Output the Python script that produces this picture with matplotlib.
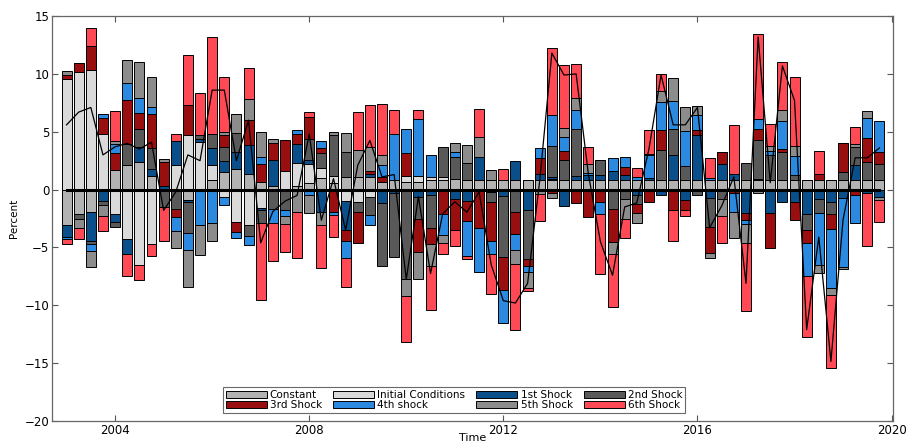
import numpy as np
import matplotlib
matplotlib.use("Agg")
import matplotlib.pyplot as plt

plt.rcParams['font.family'] = ['DejaVu Sans']

# Quarterly observations, 2003Q1 - 2019Q4
quarters = np.arange(2003, 2020, 0.25)

series_names = ["Constant", "Initial Conditions", "1st Shock", "2nd Shock",
                "3rd Shock", "4th shock", "5th Shock", "6th Shock"]
series_colors = ["#b3b3b3", "#dadada", "#0b4f8a", "#595959",
                 "#990f0f", "#2b8ae0", "#8c8c8c", "#ff4a55"]

constant = [-3.05, -2.1, -1.93, 0, 1.7, 2.15, 2.35, 1.2, 0, 0, -0.9, 0,
            0.8, 1.5, 1.75, 1.35, 0.7, 0.3, 0, 0.3, 0.55, 1.0, 0.55, 1.1,
            1.1, 1.05, 0.7, 0.8, 0.7, 0.7, 0.8, 0.8, 0.9, 0.8, 0.8, 0.8,
            0.85, 0.8, 0.8, 0.8, 0.8, 0.8, 0.8, 0.8, 0.8, 0.8, 0.8, 0.8,
            0.8, 0.8, 0.8, 0.8, 0.8, 0.8, 0.8, 0.8, 0.8, 0.8, 0.8, 0.8,
            0.8, 0.8, 0.8, 0.8, 0.8, 0.8, 0.8, 0.8]
initial = [9.57, 10.2, 10.35, 4.8, -2.15, -4.3, -6.5, -4.7, 0, 2.1, 4.75, 4.1,
           1.3, -0.65, -2.8, -3.05, -1.55, 0, 1.6, 2.0, 1.65, 0.85, 0.6, -0.95,
           -1.1, -0.6, 0, 0, 0.5, 0.5, 0.3, 0.3, 0, 0, 0, 0,
           0, 0, 0, 0, 0.15, 0, 0, 0, 0, 0, 0, 0,
           0, 0, 0, 0, 0, 0, 0, 0, 0, 0, 0, 0,
           0, 0, 0, 0, 0, 0, 0, 0]
shock1 = [-1.07, 0, -2.47, -0.95, -0.65, -1.3, 1.3, 0.57, 0.3, 2.07, -0.2, 0.3,
          1.5, 0.95, 1.5, 2.5, -0.2, 2.25, 0, 1.6, 0.35, -1.95, 0, -2.55,
          0, 0.3, -1.15, -0.3, 0, -0.6, -0.45, 0, -0.8, -1.0, 2.0, -0.2,
          -0.55, 1.7, -1.8, 0.57, 0.15, -1.45, 0.35, 0.43, 0.5, 0.8, 0.5, -0.5,
          0.23, -0.5, 2.2, -0.86, 3.88, -0.7, 1.38, 0.57, -2.0, 0.14, -2.0, -1.1,
          -1.1, -2.07, -0.8, -1.1, -0.72, 1.3, -0.3, -0.6]
shock2 = [0, -0.45, -0.26, -0.35, -0.4, 1.8, 1.55, 1.8, -1.5, -1.66, -2.65, 0.35,
          1.2, 1.2, 1.6, -1.0, -1.15, -1.65, -1.8, 0, 1.8, 1.35, 3.6, 2.15,
          -0.8, -1.6, -5.45, -5.5, -7.75, -1.95, -2.9, 2.6, 1.95, 1.5, 0, -0.9,
          -5.3, -1.9, -4.2, 0, 2.64, 1.72, 4.1, 0, 1.3, -1.67, -0.8, -0.78,
          0, 2.6, 2.24, 1.2, -0.43, -2.5, -0.8, 0, 1.5, 3.36, 2.15, 2.44,
          0.43, -1.38, -1.2, -1.0, 0.72, 1.58, 1.58, 1.44]
shock3 = [0.37, 0.78, 2.1, 1.43, 1.45, 3.8, 1.45, 2.93, 2.1, -0.7, 2.53, -0.15,
          0, 1.1, -0.9, 2.2, 1.5, 1.5, 2.7, 0.9, 1.9, 0.37, -1.9, -0.9,
          -2.75, 0.3, 0.43, 0, 1.95, -2.85, -1.35, -2.15, -2.65, -1.67, -3.35, -3.3,
          -2.8, -1.9, -0.63, 1.38, -0.25, 0.86, -1.15, -2.35, -1.1, -2.87, 0.66, -0.72,
          -1.1, 1.78, -1.78, -0.92, 0.43, -2.24, 1.03, -0.3, -0.63, 0.95, -3.07, 0.29,
          -1.55, -1.15, 0.52, -1.3, 2.5, -0.43, 2.1, 1.0]
shock4 = [-0.17, 0, -0.66, 0.32, 0.8, 1.47, 1.25, 0.66, 0, -1.23, -1.5, -2.9,
          -2.85, -0.7, -0.5, -0.7, 0.6, -1.2, -0.45, 0.35, -0.45, 0.66, -0.3, -1.5,
          0, -0.85, 1.0, 4.0, 2.07, 4.86, 1.9, -1.8, 0.37, -3.1, -3.8, -1.2,
          -2.85, -1.45, -0.5, 0.83, 2.73, 1.2, 1.64, 0.2, -1.0, 1.15, 0.86, 0.25,
          1.93, 2.4, 2.44, 3.1, 1.38, 0.2, 0, -1.6, -0.3, 0.86, 0.43, 2.36,
          1.64, -2.87, -4.55, -5.1, -5.95, -2.44, 1.72, 2.73]
shock5 = [0.35, -0.75, -1.35, -1.0, 0.25, 2.0, 3.1, 2.6, 0.25, -1.45, -3.15, -2.6,
          -1.6, 0.2, 1.7, 1.8, 2.15, 0.3, -0.7, -1.95, -1.6, -1.15, 0.2, 1.65,
          2.35, 2.0, 0.86, 0, -1.44, -2.3, -1.9, -0.63, 0.78, 1.58, 1.72, 0.9,
          0, -1.15, -1.4, -0.4, -0.5, 0.75, 1.03, 0.8, 0, -1.0, -1.78, -0.86,
          0.15, 0.95, 2.0, 2.0, 0.7, -0.46, -1.5, -2.3, -1.67, -0.25, 0.35, 1.0,
          0.86, 0, -0.7, -0.57, -0.17, 0.23, 0.63, -0.3]
shock6 = [-0.4, -0.95, 1.52, -1.3, 2.6, -1.85, -1.27, -1.0, -2.9, 0.66, 4.37, 3.6,
          8.4, 4.8, 0, 2.7, -6.6, -3.35, -2.45, -3.95, 0.5, -3.65, -1.9, -2.5,
          3.25, 3.65, 4.45, 2.05, -4.0, 0.86, -3.8, -0.95, -1.44, -0.2, 2.44, -3.4,
          0.95, -5.7, -0.2, -2.35, 5.78, 5.43, 2.93, 1.44, -5.2, -4.57, -1.58, 0.8,
          2.07, 1.5, -2.67, -0.52, 0, 1.72, -2.3, 4.22, -5.86, 7.33, 1.95, 4.1,
          6.0, -5.3, 2.0, -6.33, 0, 1.5, -4.54, -1.9]

# Observed series
observed = [5.6, 6.7, 7.1, 3.0, 3.7, 4.0, 3.5, 4.1, -1.8, -0.2, 3.0, 2.5,
            8.6, 8.6, 2.5, 6.0, -4.6, -1.9, -1.0, -0.5, 4.8, -2.65, 0.95, -3.5,
            2.1, 4.25, 1.1, 1.3, -7.75, -0.6, -7.25, -2.1, -1.05, -1.95, -0.2, -6.5,
            -9.6, -9.8, -8.1, 0.8, 11.8, 9.9, 10.0, 1.4, -4.5, -7.4, -1.5, -1.15,
            3.5, 9.9, 5.6, 5.6, 7.1, -3.3, -1.4, 1.1, -8.1, 13.2, 0.6, 10.7,
            7.7, -12.1, -4.1, -14.85, -2.6, 2.75, 2.75, 3.6]

components = [constant, initial, shock1, shock2, shock3, shock4, shock5, shock6]

fig = plt.figure(figsize=(9.06, 4.46), dpi=100)
ax = fig.add_axes([0.0574, 0.056, 0.9283, 0.908])

pos_base = np.zeros(len(quarters))
neg_base = np.zeros(len(quarters))
handles = []
for vals, name, col in zip(components, series_names, series_colors):
    v = np.asarray(vals, dtype=float)
    bottom = np.where(v >= 0, pos_base, neg_base)
    bc = ax.bar(quarters, v, width=0.205, bottom=bottom, color=col,
                edgecolor='black', linewidth=0.7, label=name, zorder=2)
    handles.append(bc)
    pos_base = pos_base + np.clip(v, 0, None)
    neg_base = neg_base + np.clip(v, None, 0)

ax.plot([quarters[0], quarters[-1]], [0, 0], color='black', lw=2.2, zorder=3)
ax.plot(quarters, observed, color='black', lw=0.9, zorder=4)

ax.set_xlim(2002.70, 2020.03)
ax.set_ylim(-20, 15)
ax.set_xticks([2004, 2008, 2012, 2016, 2020])
ax.set_yticks(np.arange(-20, 16, 5))
ax.tick_params(direction='in', top=True, right=True, length=4,
               width=0.8, color='#555555', labelsize=8.5, pad=2)
for s in ax.spines.values():
    s.set_color('#666666')
    s.set_linewidth(0.9)

ax.set_ylabel('Percent', fontsize=7.5, labelpad=4)
ax.set_xlabel('Time', fontsize=8, labelpad=-2.5)

order = [0, 4, 1, 5, 2, 6, 3, 7]
leg = ax.legend([handles[i] for i in order], [series_names[i] for i in order],
                ncol=4, loc='lower left', bbox_to_anchor=(0.2033, 0.0198),
                fontsize=7.5, frameon=True, fancybox=False, borderpad=0.25,
                handlelength=3.95, handleheight=0.7, handletextpad=0.3,
                columnspacing=1.05, labelspacing=0.05, borderaxespad=0)
leg.get_frame().set_edgecolor('#444444')
leg.get_frame().set_linewidth(0.8)

fig.savefig('out.png', dpi=100)
